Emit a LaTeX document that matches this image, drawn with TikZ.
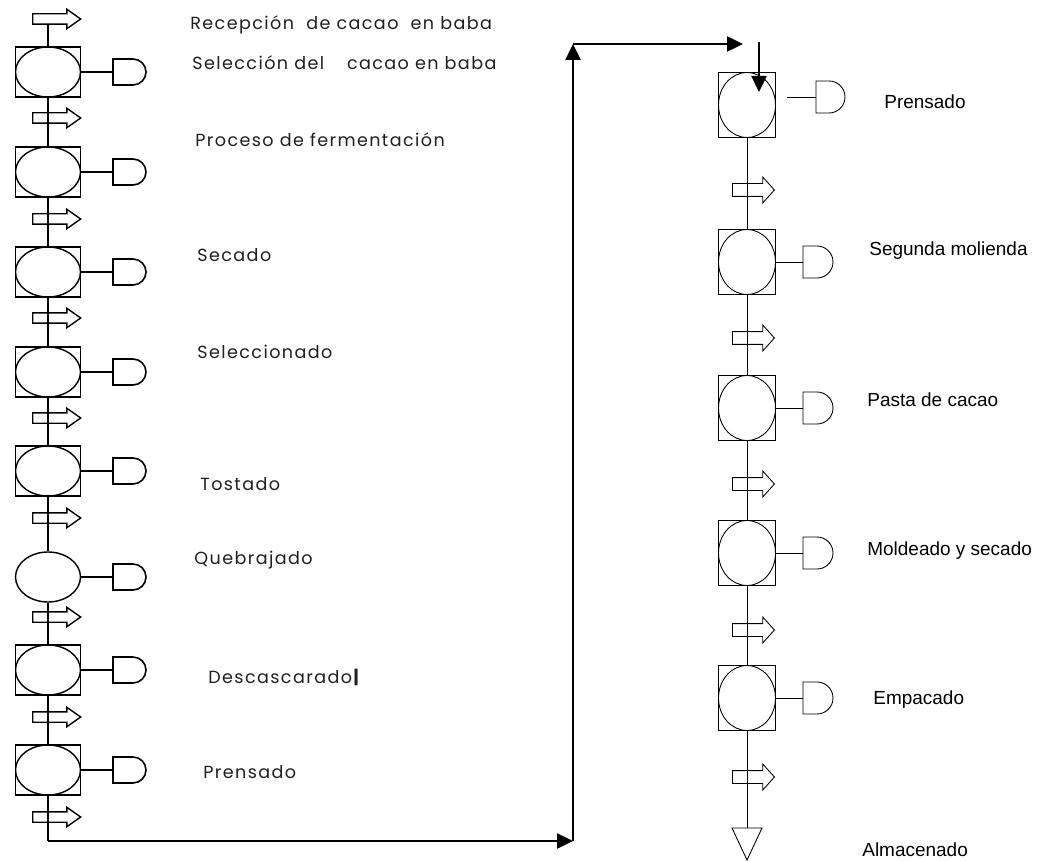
\documentclass[tikz,border=0pt]{standalone}
\usepackage{fontspec}
\setmainfont{Liberation Sans}
\newfontfamily\gotica[LetterSpace=8]{Poppins}
\usetikzlibrary{shapes.geometric,shapes.arrows,arrows.meta}

\begin{document}
\begin{tikzpicture}[x=0.02cm,y=-0.02cm,
  opizq/.style={draw,line width=0.9pt,minimum width=1.3cm,minimum height=1cm,inner sep=0pt,
    path picture={\draw[line width=0.8pt] (path picture bounding box.center) ellipse [x radius=0.65cm,y radius=0.5cm];}},
  solo/.style={draw,ellipse,line width=0.8pt,minimum width=1.3cm,minimum height=1cm,inner sep=0pt},
  opder/.style={draw,line width=0.5pt,minimum width=1.14cm,minimum height=1.3cm,inner sep=0pt,
    path picture={\draw[line width=0.5pt] (path picture bounding box.center) ellipse [x radius=0.57cm,y radius=0.65cm];}},
  trizq/.style={draw,single arrow,line width=0.8pt,anchor=tail,minimum height=0.96cm,inner sep=0pt,
    inner ysep=0.09cm,single arrow head extend=0.09cm,single arrow tip angle=70},
  trder/.style={draw,single arrow,line width=0.5pt,anchor=tail,minimum height=0.84cm,inner sep=0pt,
    inner ysep=0.12cm,single arrow head extend=0.13cm,single arrow tip angle=96},
  flujo/.style={line width=1.4pt,-{Triangle[length=0.32cm,width=0.3cm]}},
  etiq/.style={anchor=west,inner sep=0pt,text=black!88,font=\gotica\fontsize{10}{12}\selectfont},
  etder/.style={anchor=west,inner sep=0pt,font=\fontsize{10.8}{13}\selectfont},
  pics/espera/.style 2 args={code={\draw (0,-#1) -- (#2,-#1) arc (-90:90:#1) -- (0,#1) -- cycle;}}
]
\useasboundingbox (0,0) rectangle (1040,861);

% primera columna
\node[trizq] (t0) at (32,19) {};
\node[opizq] (c1) at (48,72) {};
\node[trizq] (t1) at (32,118) {};
\node[opizq] (c2) at (48,172) {};
\node[trizq] (t2) at (32,219) {};
\node[opizq] (c3) at (48,272) {};
\node[trizq] (t3) at (32,318) {};
\node[opizq] (c4) at (48,372) {};
\node[trizq] (t4) at (32,418) {};
\node[opizq] (c5) at (48,471) {};
\node[trizq] (t5) at (32,518) {};
\node[solo] (c6) at (48,577) {};
\node[trizq] (t6) at (32,617) {};
\node[opizq] (c7) at (48,670) {};
\node[trizq] (t7) at (32,717) {};
\node[opizq] (c8) at (48,770) {};
\node[trizq] (t8) at (32,817) {};
\coordinate (fin) at (48,841);

\draw[line width=0.9pt] (t0.south -| c1.north) -- (c1.north) (c1.south) -- (c2.north)
  (c2.south) -- (c3.north) (c3.south) -- (c4.north) (c4.south) -- (c5.north)
  (c5.south) -- (c6.north) (c6.south) -- (c7.north) (c7.south) -- (c8.north) (c8.south) -- (fin);

\coordinate (d1) at (113,72);
\coordinate (d2) at (113,172);
\coordinate (d3) at (113,272);
\coordinate (d4) at (113,372);
\coordinate (d5) at (113,471);
\coordinate (d6) at (113,577);
\coordinate (d7) at (113,670);
\coordinate (d8) at (113,770);
\draw[line width=0.9pt] (c1.east) -- (d1) (c2.east) -- (d2) (c3.east) -- (d3) (c4.east) -- (d4)
  (c5.east) -- (d5) (c6.east) -- (d6) (c7.east) -- (d7) (c8.east) -- (d8);
\pic[line width=0.9pt] at (d1) {espera={13}{20}};
\pic[line width=0.9pt] at (d2) {espera={13}{20}};
\pic[line width=0.9pt] at (d3) {espera={13}{20}};
\pic[line width=0.9pt] at (d4) {espera={13}{20}};
\pic[line width=0.9pt] at (d5) {espera={13}{20}};
\pic[line width=0.9pt] at (d6) {espera={13}{20}};
\pic[line width=0.9pt] at (d7) {espera={13}{20}};
\pic[line width=0.9pt] at (d8) {espera={13}{20}};

\node[etiq] (l0) at (190,25) {Recepción\ \ de cacao\ \ en baba};
\node[etiq] (l1) at (192,63) {Selección del\hspace{1.3em}cacao en baba};
\node[etiq] (l2) at (195,140) {Proceso de fermentación};
\node[etiq] (l3) at (197,255) {Secado};
\node[etiq] (l4) at (197,352) {Seleccionado};
\node[etiq] (l5) at (200,484) {Tostado};
\node[etiq] (l6) at (194,560) {Quebrajado};
\node[etiq] (l7) at (208,677) {Descascarado\textbf{|}};
\node[etiq] (l8) at (203,772) {Prensado};

% enlace
\coordinate (esq1) at (573,841);
\coordinate (esq2) at (573,44);
\coordinate (lleg) at (743,44);
\coordinate (baj1) at (759,42);
\coordinate (baj2) at (759,92);
\draw[flujo] (fin) -- (esq1);
\draw[flujo] (esq1) -- (esq2);
\draw[flujo] (esq2) -- (lleg);
\draw[flujo] (baj1) -- (baj2);

% segunda columna
\node[opder] (r1) at (747,105) {};
\node[trder] (u1) at (732,190) {};
\node[opder] (r2) at (747,262) {};
\node[trder] (u2) at (732,338) {};
\node[opder] (r3) at (747,408) {};
\node[trder] (u3) at (732,484) {};
\node[opder] (r4) at (747,553) {};
\node[trder] (u4) at (732,630) {};
\node[opder] (r5) at (747,698) {};
\node[trder] (u5) at (732,777) {};
\coordinate (alm) at (747,828);

\draw[line width=0.5pt] (r1.south) -- (r2.north) (r2.south) -- (r3.north) (r3.south) -- (r4.north)
  (r4.south) -- (r5.north) (r5.south) -- (alm);
\draw[line width=0.5pt] (alm) -- ++(-15,0) -- ++(15,32) -- ++(15,-32) -- cycle;

\coordinate (e1) at (787,97);
\coordinate (dr1) at (816,97);
\coordinate (dr2) at (803,262);
\coordinate (dr3) at (803,408);
\coordinate (dr4) at (803,553);
\coordinate (dr5) at (803,698);
\draw[line width=0.5pt] (e1) -- (dr1) (r2.east) -- (dr2) (r3.east) -- (dr3) (r4.east) -- (dr4) (r5.east) -- (dr5);
\pic[line width=0.5pt] at (dr1) {espera={16}{13}};
\pic[line width=0.5pt] at (dr2) {espera={16}{14}};
\pic[line width=0.5pt] at (dr3) {espera={16}{14}};
\pic[line width=0.5pt] at (dr4) {espera={16}{14}};
\pic[line width=0.5pt] at (dr5) {espera={16}{14}};

\node[etder] (m1) at (884,102) {Prensado};
\node[etder] (m2) at (869,251) {Segunda molienda};
\node[etder] (m3) at (867,400) {Pasta de cacao};
\node[etder] (m4) at (867,551) {Moldeado y secado};
\node[etder] (m5) at (873,700) {Empacado};
\node[etder] (m6) at (862,850) {Almacenado};
\end{tikzpicture}
\end{document}
